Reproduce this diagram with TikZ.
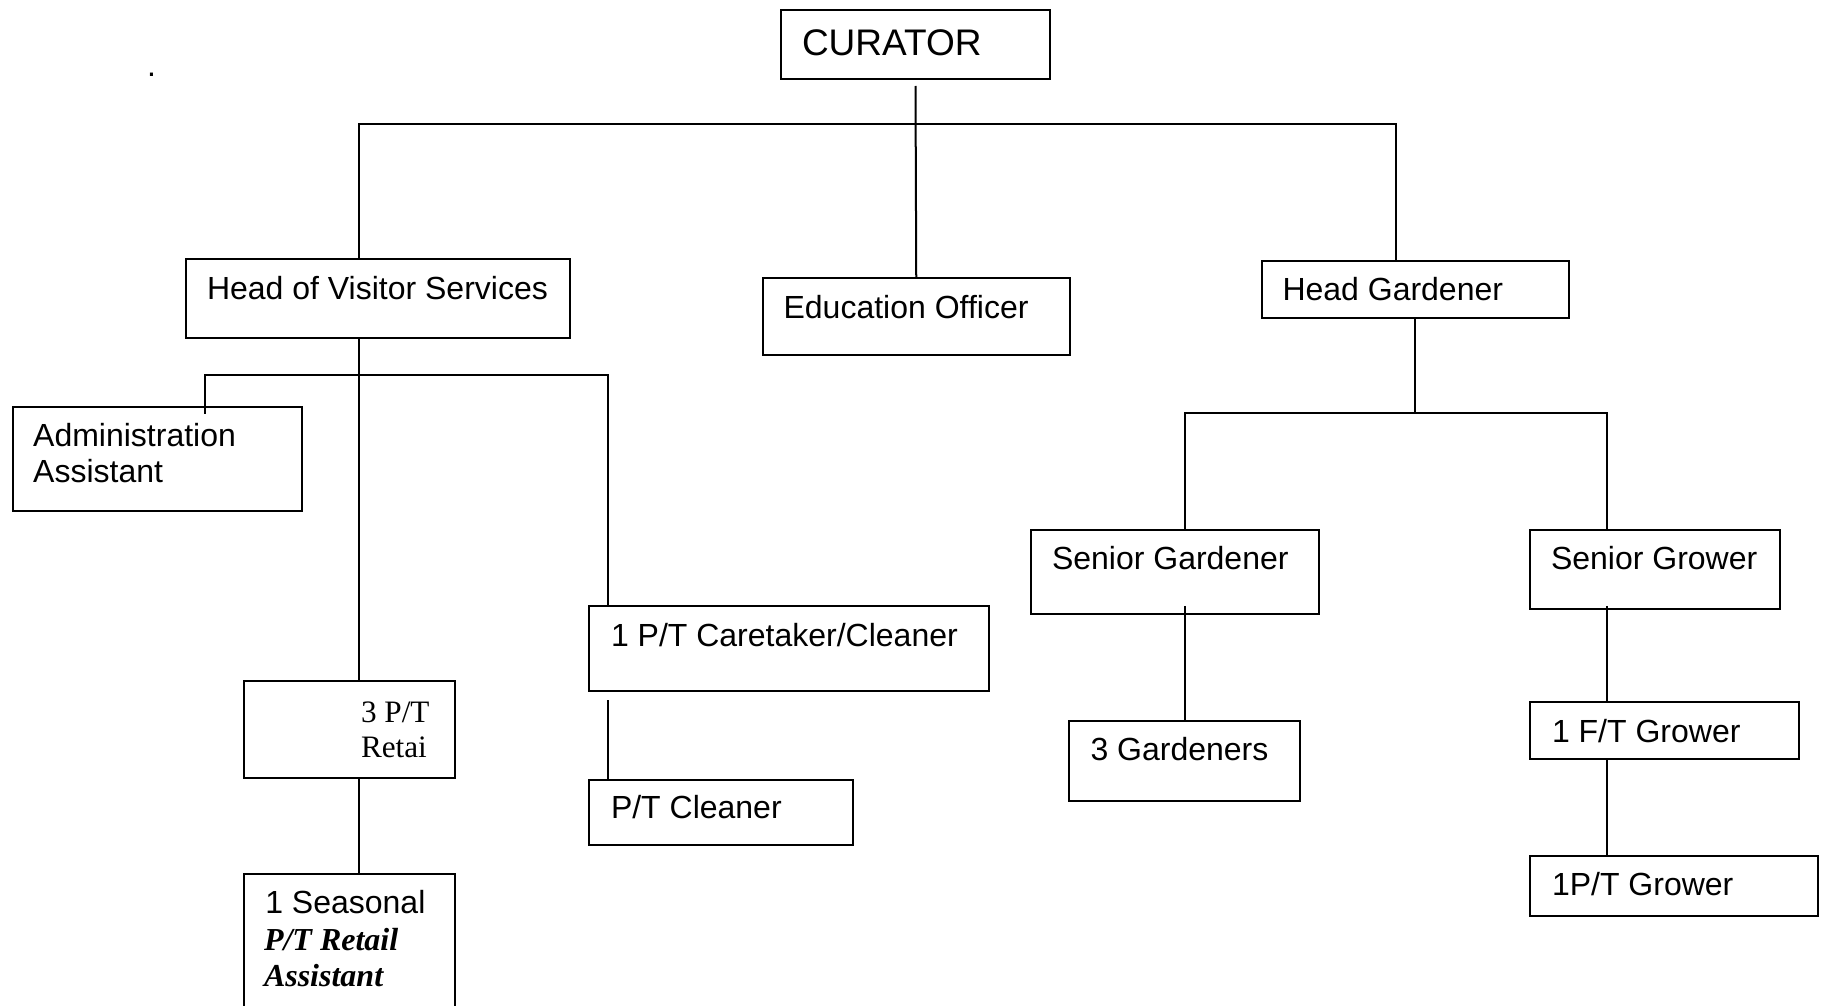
\documentclass[tikz,border=0pt]{standalone}
\usepackage{fontspec}
\setmainfont{Liberation Sans}
\newfontfamily\serifx{Liberation Serif}
\usetikzlibrary{fit}
\begin{document}
\begin{tikzpicture}[x=0.5pt,y=-0.5pt,
  box/.style={draw, line width=1pt, inner sep=0pt, outer sep=0pt, rectangle},
  lbl/.style={anchor=base west, inner sep=0pt, outer sep=0pt, font=\fontsize{16pt}{19pt}\selectfont},
  big/.style={lbl, font=\fontsize{18.5pt}{22pt}\selectfont},
  srf/.style={lbl, font=\fontsize{15.6pt}{19pt}\selectfont\serifx},
  srfbi/.style={lbl, font=\fontsize{16pt}{19pt}\selectfont\serifx\bfseries\itshape},
  conn/.style={line width=1pt}]
\clip (0,0) rectangle (1825,1006);
\fill[white] (0,0) rectangle (1825,1006);

% boxes
\node[box, fit={(781,10.5) (1050,79)}] (cur) {};
\node[box, fit={(186,259) (570,338)}] (hvs) {};
\node[box, fit={(762.5,278) (1070,355)}] (edu) {};
\node[box, fit={(1261.5,261) (1569,318.4)}] (hg) {};
\node[box, fit={(13,406.6) (301.7,510.8)}] (adm) {};
\node[box, fit={(589.3,606.4) (988.5,690.9)}] (care) {};
\node[box, fit={(589.3,779.5) (853.3,845)}] (clean) {};
\node[box, fit={(243.6,681.4) (455.4,777.8)}] (ret) {};
\node[box, fit={(243.6,873.8) (455.4,1020)}] (sea) {};
\node[box, fit={(1031,529.5) (1319,613.9)}] (sg) {};
\node[box, fit={(1069,721.3) (1300,800.8)}] (gard) {};
\node[box, fit={(1530,529.5) (1780,609)}] (sgr) {};
\node[box, fit={(1530,702) (1799,759.4)}] (ft) {};
\node[box, fit={(1530,855.8) (1818,915.5)}] (pt) {};

% texts
\node[lbl] (dot) at (147,76) {.};
\node[big] (cur-t) at (802,56) {CURATOR};
\node[lbl] (hvs-t) at (207,299) {Head of Visitor Services};
\node[lbl] (edu-t) at (783.6,318) {Education Officer};
\node[lbl] (hg-t) at (1282.5,300.6) {Head Gardener};
\node[lbl] (adm-t1) at (33.2,446.5) {Administration};
\node[lbl] (adm-t2) at (33.2,482.8) {Assistant};
\node[lbl] (care-t) at (611,646.4) {1 P/T Caretaker/Cleaner};
\node[lbl] (clean-t) at (611,818.5) {P/T Cleaner};
\node[srf] (ret-t1) at (361,722.6) {3 P/T};
\node[srf] (ret-t2) at (361,757.6) {Retai};
\node[lbl] (sea-t1) at (265.3,913.4) {1 Seasonal};
\node[srfbi] (sea-t2) at (264,950) {P/T Retail};
\node[srfbi] (sea-t3) at (264,986.3) {Assistant};
\node[lbl] (sg-t) at (1052,569.5) {Senior Gardener};
\node[lbl] (gard-t) at (1090.5,760.8) {3 Gardeners};
\node[lbl] (sgr-t) at (1551,569.5) {Senior Grower};
\node[lbl] (ft-t) at (1552,742.5) {1 F/T Grower};
\node[lbl] (pt-t) at (1552,895.8) {1P/T Grower};

% junction coordinates
\coordinate (barL) at (358.5,124.5);
\coordinate (barR) at (1395.5,124.5);
\coordinate (vsL) at (205.4,374.8);
\coordinate (vsR) at (608.4,374.8);
\coordinate (gL) at (1185,413);
\coordinate (gR) at (1607,413);
\coordinate (hgJ) at (1415,413);

% connectors
\draw[conn] ([yshift=-3.5pt]cur.south) -- (edu.north);
\draw[conn] (hvs.north -| barL) -- (barL) -- (barR) -- (hg.north -| barR);
\draw[conn] (hvs.south -| barL) -- (ret.north -| barL);
\draw[conn] (ret.south -| barL) -- (sea.north -| barL);
\draw[conn] ([yshift=-3.5pt]adm.north -| vsL) -- (vsL) -- (vsR) -- (care.north -| vsR);
\draw[conn] ([yshift=-4.7pt]care.south -| vsR) -- (clean.north -| vsR);
\draw[conn] (hg.south -| hgJ) -- (hgJ);
\draw[conn] (sg.north -| gL) -- (gL) -- (gR) -- (sgr.north -| gR);
\draw[conn] ([yshift=4pt]sg.south -| gL) -- (gard.north -| gL);
\draw[conn] ([yshift=1.6pt]sgr.south -| gR) -- (ft.north -| gR);
\draw[conn] (ft.south -| gR) -- (pt.north -| gR);
\end{tikzpicture}
\end{document}
